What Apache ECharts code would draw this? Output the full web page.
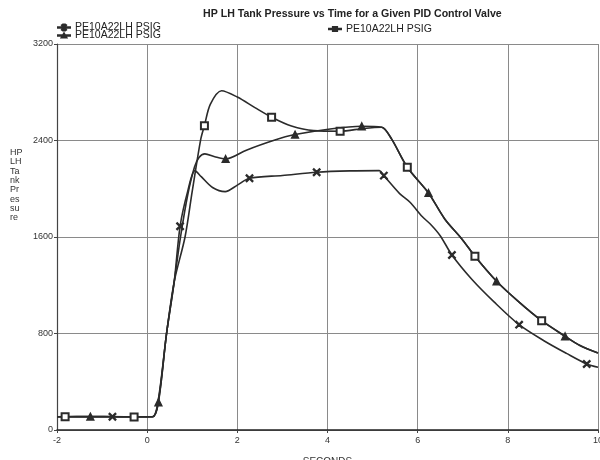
<!DOCTYPE html>
<html>
<head>
<meta charset="utf-8">
<script src="https://cdn.jsdelivr.net/npm/echarts@6/dist/echarts.min.js"></script>
<style>
  html, body { margin: 0; padding: 0; background: #fff; }
  #chart { width: 600px; height: 460px; }
</style>
</head>
<body>
<div id="chart"></div>
<script>
// series names (all three traces carry the same tag name)
const seriesName = 'PE10A22LH PSIG'

// axis ticks
const xTicks = [-2, 0, 2, 4, 6, 8, 10]
const yTicks = [0, 800, 1600, 2400, 3200]

// square-marker trace (highest overshoot)
const sqX = [-2, -1.82, -1.3, -0.8, -0.29, 0.12, 0.25, 0.43, 0.6, 0.84, 1.0, 1.19, 1.27, 1.4, 1.65, 2.0, 2.4, 2.76, 3.2, 3.69, 4.28, 4.8, 5.2, 5.42, 5.77, 6.24, 6.6, 6.98, 7.27, 7.75, 8.25, 8.75, 9.27, 9.6, 10]
const sqY = [110, 110, 112, 110, 108, 110, 260, 800, 1230, 1600, 1980, 2413, 2523, 2700, 2813, 2760, 2670, 2593, 2520, 2482, 2477, 2500, 2510, 2413, 2178, 1965, 1750, 1584, 1440, 1233, 1060, 906, 777, 700, 638]
const sqMarks = [1, 4, 12, 17, 20, 24, 28, 31]

// triangle-marker trace (middle)
const trX = [-2, -1.26, -0.5, 0.12, 0.25, 0.43, 0.6, 0.74, 0.9, 1.05, 1.15, 1.28, 1.5, 1.74, 2.2, 2.8, 3.28, 4.06, 4.76, 5.2, 5.42, 5.77, 6.24, 6.6, 6.98, 7.27, 7.75, 8.25, 8.75, 9.27, 9.6, 10]
const trY = [110, 111, 110, 110, 230, 800, 1230, 1600, 1950, 2180, 2260, 2289, 2265, 2247, 2320, 2400, 2449, 2496, 2518, 2510, 2413, 2178, 1965, 1750, 1584, 1440, 1233, 1060, 906, 777, 700, 638]
const trMarks = [1, 4, 13, 16, 18, 22, 26, 29]

// x-marker trace (lowest)
const xxX = [-2, -0.77, 0.12, 0.25, 0.43, 0.6, 0.73, 0.9, 1.06, 1.2, 1.45, 1.73, 2.0, 2.27, 3.0, 3.76, 4.5, 5.15, 5.25, 5.6, 5.83, 6.1, 6.3, 6.5, 6.76, 7.2, 7.7, 8.25, 8.8, 9.3, 9.75, 10]
const xxY = [110, 110, 110, 240, 800, 1230, 1689, 1980, 2150, 2100, 2010, 1976, 2030, 2087, 2110, 2137, 2148, 2150, 2109, 1960, 1888, 1770, 1700, 1611, 1451, 1250, 1060, 873, 740, 635, 547, 520]
const xxMarks = [1, 6, 13, 15, 18, 24, 27, 30]

const ink = '#2b2b2b'
const font = 'Liberation Sans, Arial, sans-serif'
const xPath = 'path://M0,1L1,0L5,4L9,0L10,1L6,5L10,9L9,10L5,6L1,10L0,9L4,5Z'

const toData = (xs, ys, marks) =>
  xs.map((x, i) => ({ value: [x, ys[i]], symbolSize: marks.includes(i) ? 7 : 0 }))

const lineSeries = (xs, ys, marks, symbol) => ({
  name: seriesName,
  type: 'line',
  data: toData(xs, ys, marks),
  smooth: 0.3,
  symbol: symbol,
  showSymbol: true,
  showAllSymbol: true,
  lineStyle: { color: ink, width: 1.6 },
  itemStyle: { color: ink, borderColor: ink, borderWidth: 1.3 },
  animation: false
})

const legendAt = (left, top, icon) => ({
  left: left,
  top: top,
  orient: 'horizontal',
  selectedMode: false,
  itemWidth: 12,
  itemHeight: 9,
  padding: 0,
  data: [{ name: seriesName, icon: icon }],
  textStyle: { color: '#222', fontSize: 10.5, fontFamily: font }
})

const chart = echarts.init(document.getElementById('chart'))

chart.setOption({
  backgroundColor: '#fff',
  title: {
    text: 'HP LH Tank Pressure vs Time for a Given PID Control Valve',
    left: 203,
    top: 9,
    padding: 0,
    textStyle: { color: '#222', fontSize: 10.6, fontWeight: 'bold', fontFamily: font }
  },
  legend: [
    legendAt(57, 22, 'path://M0,4.6H20V5.4H0Z M6.5,1.2L7.3,0.6L13.5,8.8L12.7,9.4Z M12.7,0.6L13.5,1.2L7.3,9.4L6.5,8.8Z M9.6,0H10.4V10H9.6Z'),
    legendAt(57, 30, 'path://M0,4.6H20V5.4H0Z M10,1.5L14,8.5H6Z'),
    legendAt(328, 23.5, 'path://M0,4.6H20V5.4H0Z M6.5,1.5H13.5V8.5H6.5Z')
  ],
  graphic: [{
    type: 'text',
    left: 10,
    top: 148,
    style: {
      text: 'HP\nLH\nTa\nnk\nPr\nes\nsu\nre',
      fill: '#333',
      font: '9px ' + font,
      lineHeight: 9.3
    }
  }],
  grid: { left: 57, right: 2, top: 44, bottom: 30, containLabel: false, outerBoundsMode: 'none' },
  xAxis: {
    type: 'value',
    min: xTicks[0],
    max: xTicks[xTicks.length - 1],
    interval: 2,
    name: 'SECONDS',
    nameLocation: 'middle',
    nameGap: 27,
    nameTextStyle: { color: '#333', fontSize: 10, fontFamily: font },
    axisLine: { onZero: false, lineStyle: { color: '#222', width: 1.5 } },
    axisTick: { show: true, length: 3, lineStyle: { color: '#444' } },
    axisLabel: { color: '#333', fontSize: 9, margin: 6, fontFamily: font },
    splitLine: { show: true, lineStyle: { color: '#8a8a8a', width: 1 } }
  },
  yAxis: {
    type: 'value',
    min: yTicks[0],
    max: yTicks[yTicks.length - 1],
    interval: 800,
    axisLine: { show: true, onZero: false, lineStyle: { color: '#444', width: 1.2 } },
    axisTick: { show: true, length: 3, lineStyle: { color: '#444' } },
    axisLabel: { color: '#333', fontSize: 9, margin: 4, fontFamily: font, formatter: v => String(v) },
    splitLine: { show: true, lineStyle: { color: '#8a8a8a', width: 1 } }
  },
  series: [
    lineSeries(xxX, xxY, xxMarks, xPath),
    lineSeries(trX, trY, trMarks, 'triangle'),
    lineSeries(sqX, sqY, sqMarks, 'emptyRect')
  ]
})
</script>
</body>
</html>
